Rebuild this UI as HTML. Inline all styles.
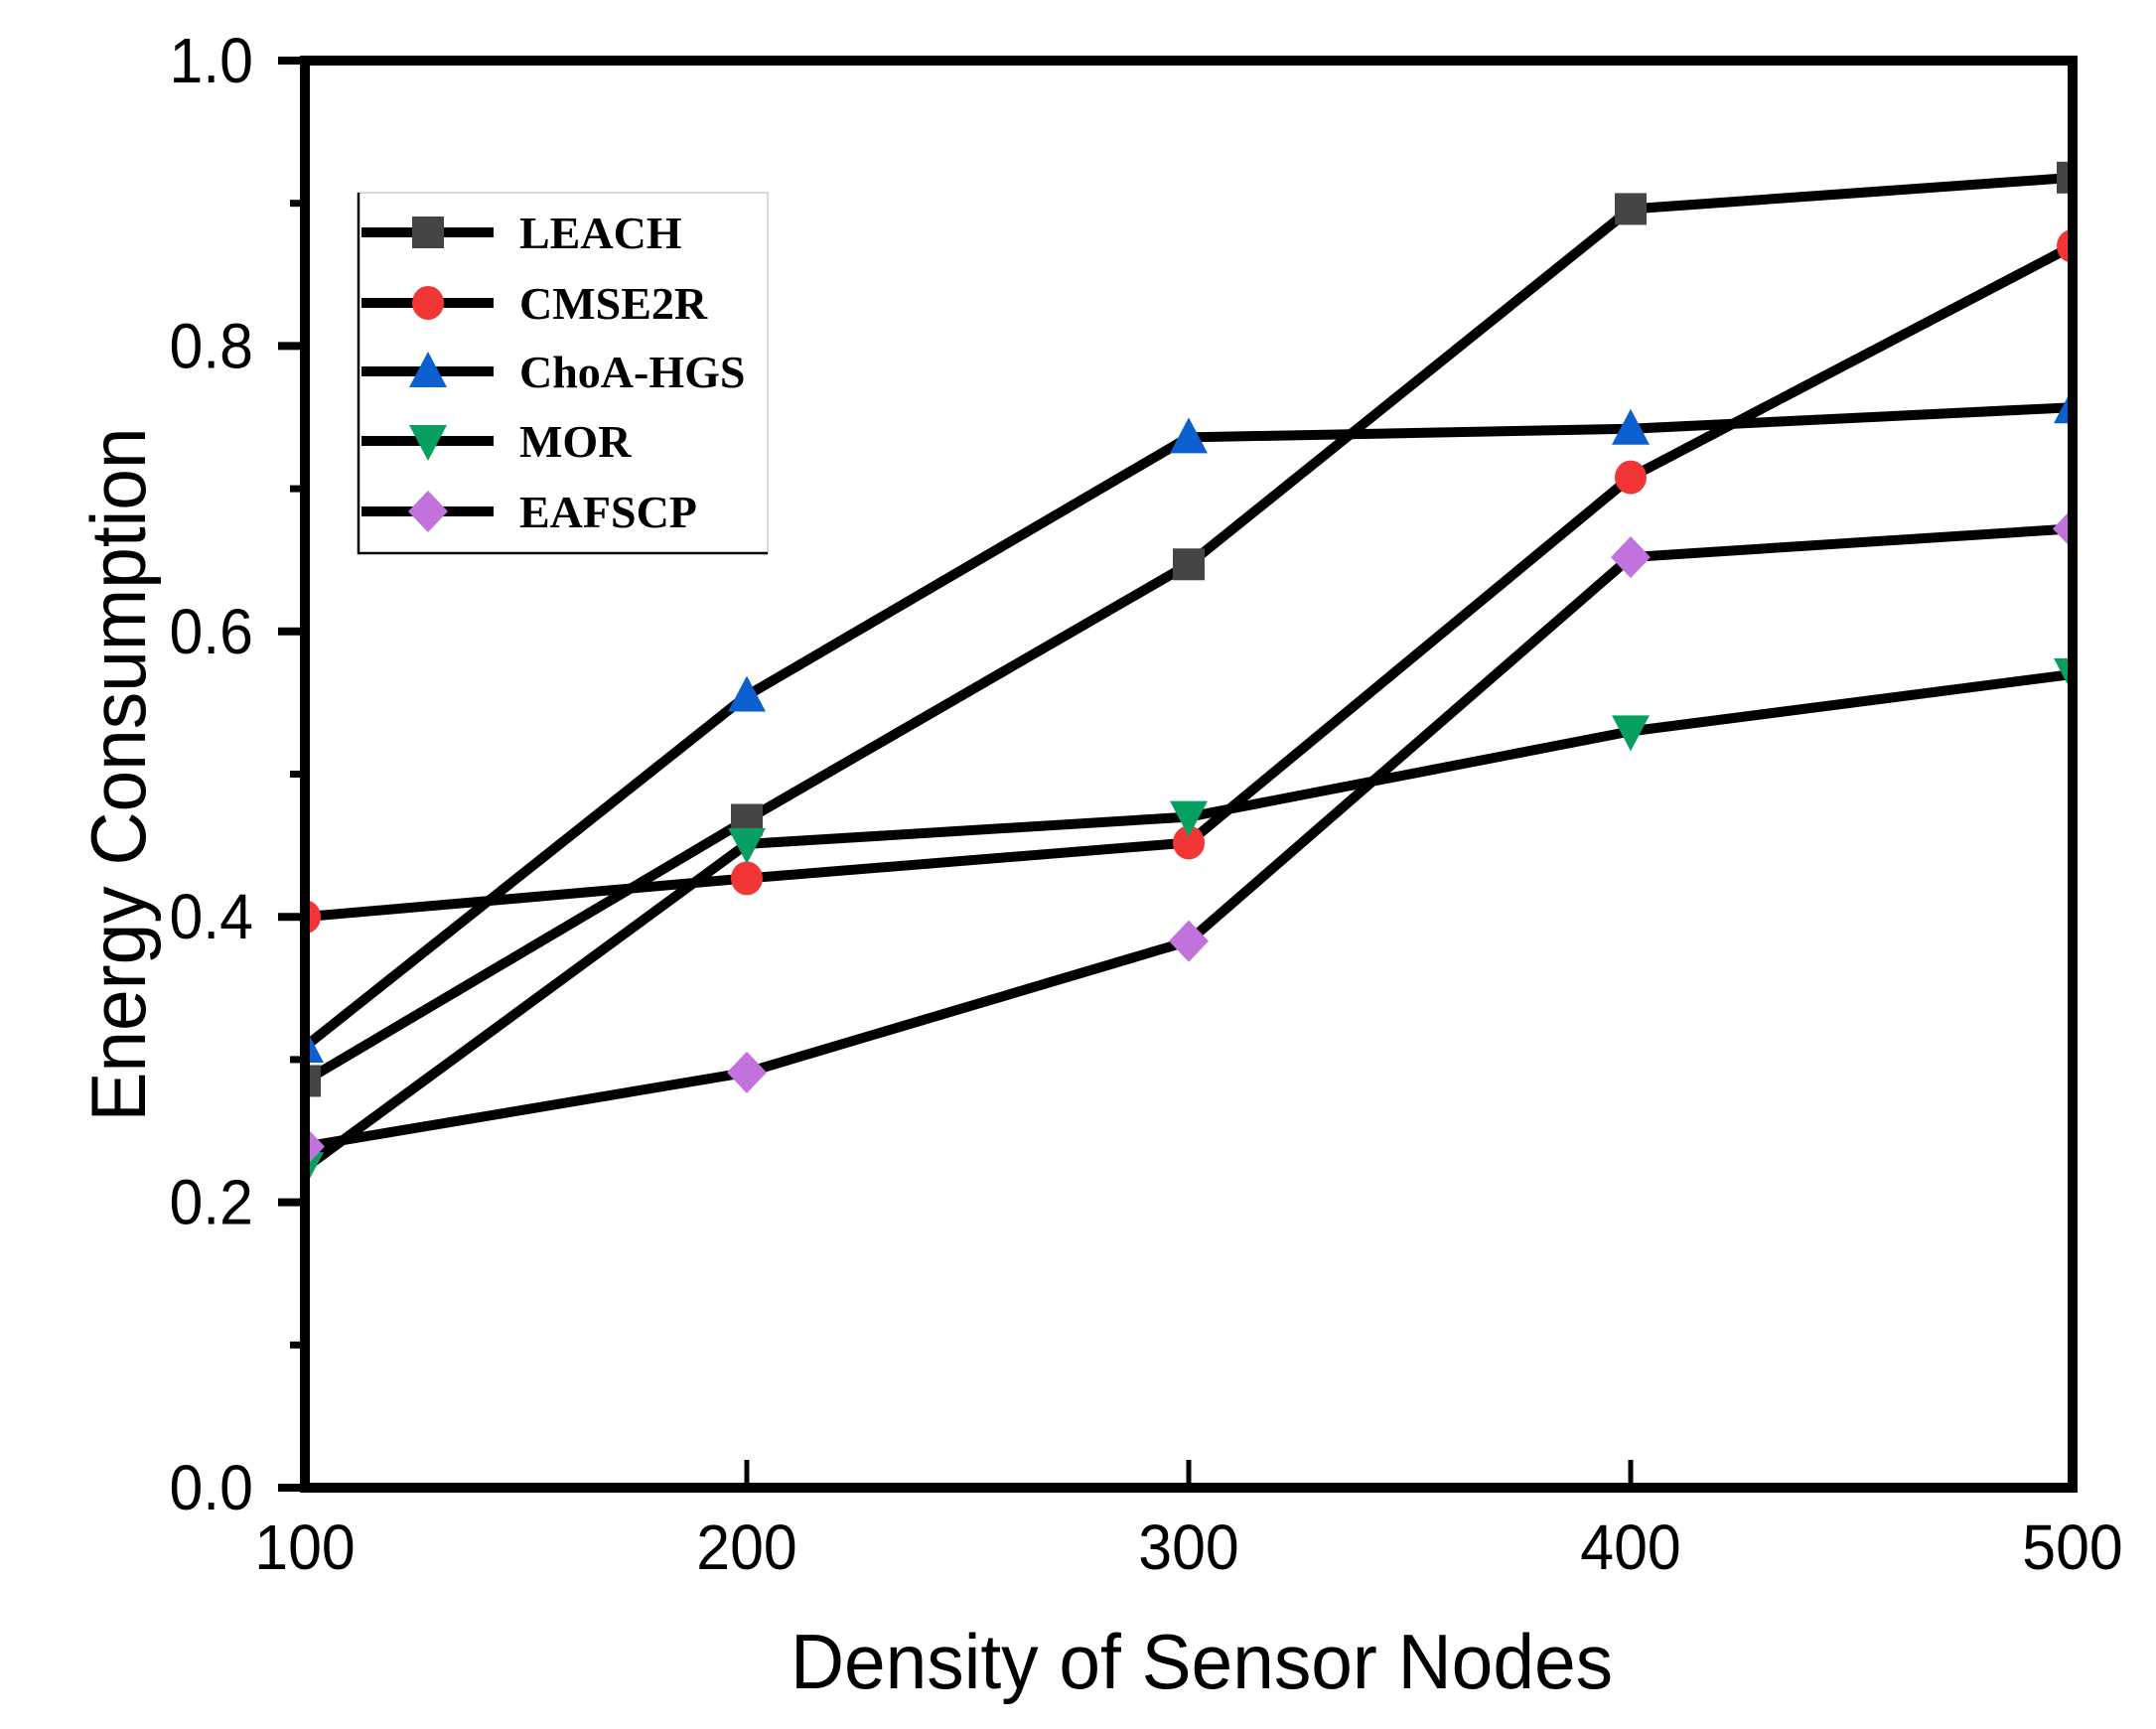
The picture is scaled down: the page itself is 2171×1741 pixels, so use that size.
<!DOCTYPE html>
<html><head><meta charset="utf-8"><style>
html,body{margin:0;padding:0;background:#fff;width:2171px;height:1741px;overflow:hidden}
svg{display:block}
text{font-family:"Liberation Sans",sans-serif}
</style></head><body>
<svg id="chart" width="2171" height="1741" viewBox="0 0 2171 1741" xmlns="http://www.w3.org/2000/svg">
<defs><clipPath id="plotclip"><rect x="307" y="61" width="1780" height="1437"/></clipPath></defs>
<g id="grid"></g>
<g id="series" clip-path="url(#plotclip)"></g>
<g id="frame"></g>
<g id="legend"></g>
</svg>
<script>
const categories = [100, 200, 300, 400, 500];
const leach = [0.285, 0.468, 0.647, 0.896, 0.918];
const cmse2r = [0.400, 0.427, 0.452, 0.708, 0.870];
const choa = [0.309, 0.555, 0.736, 0.742, 0.757];
const mor = [0.224, 0.451, 0.470, 0.530, 0.570];
const eafscp = [0.239, 0.291, 0.383, 0.652, 0.672];
const seriesNames = ["LEACH", "CMSE2R", "ChoA-HGS", "MOR", "EAFSCP"];
const legendLabels = ["LEACH", "CMSE2R", "ChoA-HGS", "MOR", "EAFSCP"];
const yTicks = [0.0, 0.2, 0.4, 0.6, 0.8, 1.0];
const yMinor = [0.1, 0.3, 0.5, 0.7, 0.9];
const xTicks = [100, 200, 300, 400, 500];

const NS = "http://www.w3.org/2000/svg";
const L = 307, R = 2087, T = 61, B = 1498;
const xs = v => L + (v - 100) / 400 * (R - L);
const ys = v => B - v * (B - T);
function mk(tag, attrs, parent) {
  const e = document.createElementNS(NS, tag);
  for (const k in attrs) e.setAttribute(k, attrs[k]);
  parent.appendChild(e);
  return e;
}
const styles = [
  {color:"#454545", shape:"square"},
  {color:"#f23535", shape:"circle"},
  {color:"#0c5fcf", shape:"up"},
  {color:"#08a060", shape:"down"},
  {color:"#c272dc", shape:"diamond"}
];
function marker(shape, cx, cy, color, parent) {
  const s = 16;
  let e;
  if (shape === "square") e = mk("rect", {x:cx-s, y:cy-s, width:2*s, height:2*s, fill:color}, parent);
  else if (shape === "circle") e = mk("ellipse", {cx:cx, cy:cy, rx:s, ry:s+1, fill:color}, parent);
  else if (shape === "up") e = mk("polygon", {points:`${cx},${cy-s-4} ${cx+s+3},${cy+s} ${cx-s-3},${cy+s}`, fill:color}, parent);
  else if (shape === "down") e = mk("polygon", {points:`${cx},${cy+s+4} ${cx+s+3},${cy-s} ${cx-s-3},${cy-s}`, fill:color}, parent);
  else e = mk("polygon", {points:`${cx},${cy-s-5} ${cx+s+4},${cy} ${cx},${cy+s+5} ${cx-s-4},${cy}`, fill:color}, parent);
  return e;
}
const allSeries = [leach, cmse2r, choa, mor, eafscp];
const sg = document.getElementById("series");
allSeries.forEach((vals, i) => {
  const pts = vals.map((v, j) => xs(categories[j]) + "," + ys(v)).join(" ");
  const pl = mk("polyline", {points:pts, fill:"none", stroke:"#000", "stroke-width":10, "stroke-linejoin":"round"}, sg);
  
  
});
allSeries.forEach((vals, i) => {
  vals.forEach((v, j) => {
    const m = marker(styles[i].shape, xs(categories[j]), ys(v), styles[i].color, sg);
    
    
  });
});
const g = document.getElementById("grid");
yTicks.forEach(t => {
  const l = mk("line", {x1:L-27, x2:L, y1:ys(t), y2:ys(t), stroke:"#000", "stroke-width":8}, g);
  
  
  const tx = mk("text", {x:255, y:ys(t)+22, "text-anchor":"end", "font-size":64, fill:"#000", transform:`translate(255,0) scale(0.95,1) translate(-255,0)`}, g);
  tx.textContent = t.toFixed(1);
  
  
});
yMinor.forEach(t => {
  const l = mk("line", {x1:L-15, x2:L, y1:ys(t), y2:ys(t), stroke:"#000", "stroke-width":7}, g);
  
  
});
xTicks.forEach(t => {
  const l = mk("line", {x1:xs(t), x2:xs(t), y1:B-28, y2:B, stroke:"#000", "stroke-width":5}, g);
  
  
  const tx = mk("text", {x:xs(t), y:1580, "text-anchor":"middle", "font-size":64, fill:"#000", transform:`translate(${xs(t)},0) scale(0.95,1) translate(${-xs(t)},0)`}, g);
  tx.textContent = t;
  
  
});
const f = document.getElementById("frame");
const fr = mk("rect", {x:L, y:T, width:R-L, height:B-T, fill:"none", stroke:"#000", "stroke-width":10}, f);


const xt = mk("text", {x:1210, y:1700, "text-anchor":"middle", "font-size":78, fill:"#000", transform:"translate(1210,0) scale(0.96,1) translate(-1210,0)"}, f);
xt.textContent = "Density of Sensor Nodes";


const yt = mk("text", {x:0, y:0, "text-anchor":"middle", "font-size":78, fill:"#000", transform:"translate(146,780) rotate(-90) scale(0.96,1)"}, f);
yt.textContent = "Energy Consumption";



const lg = document.getElementById("legend");
const lb = mk("rect", {x:361, y:194, width:412, height:363, fill:"#fff", stroke:"#ccc", "stroke-width":1.5}, lg);


const lbd = mk("polyline", {points:"361,194 361,557 773,557", fill:"none", stroke:"#000", "stroke-width":2.5}, lg);


const legY = [234, 305, 374, 444, 515];
legendLabels.forEach((name, i) => {
  const y = legY[i];
  const ln = mk("line", {x1:364, x2:497, y1:y, y2:y, stroke:"#000", "stroke-width":10}, lg);
  
  
  const m = marker(styles[i].shape, 431, y, styles[i].color, lg);
  
  
  const tx = mk("text", {x:523, y:y+16, "font-size":46, "font-weight":"bold", fill:"#000", style:'font-family:"Liberation Serif",serif', transform:"translate(523,0) scale(1.0,1) translate(-523,0)"}, lg);
  tx.textContent = name;
  
  
});
</script>
</body></html>
